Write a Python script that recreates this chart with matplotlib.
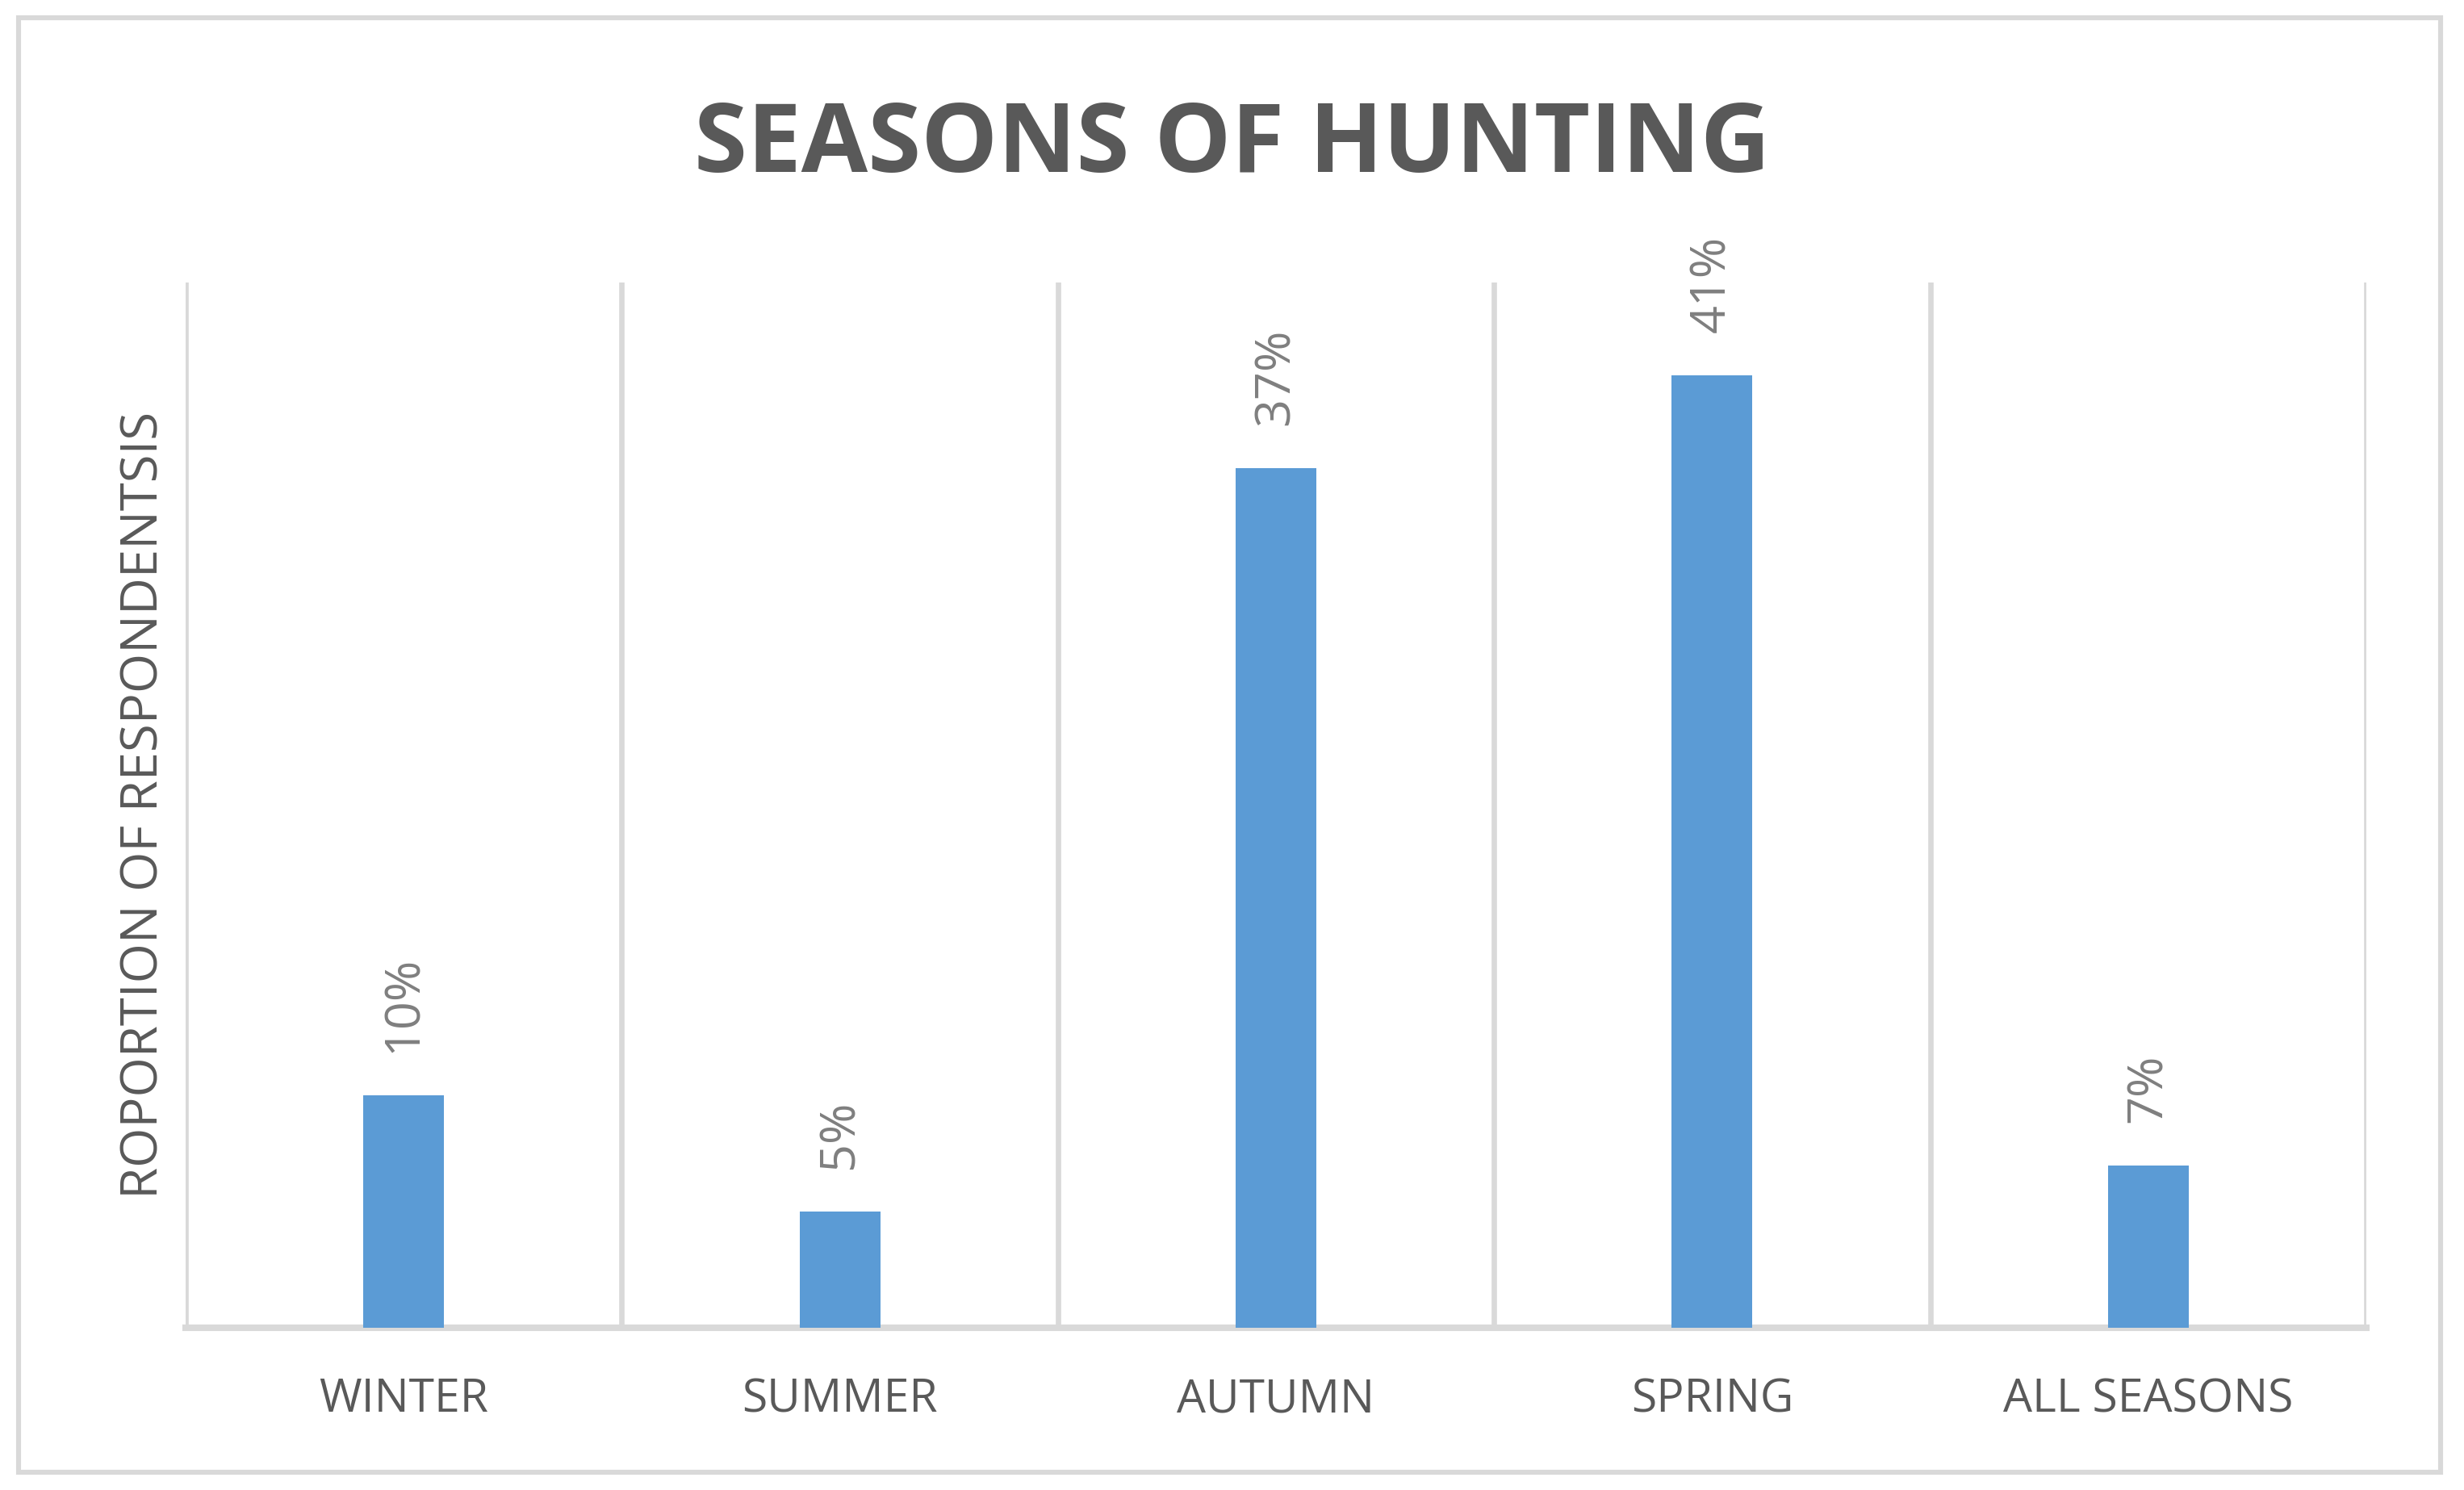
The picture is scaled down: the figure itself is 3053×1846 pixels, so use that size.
import matplotlib.pyplot as plt
from matplotlib.patches import Rectangle
import numpy as np

# dados do grafico
estacoes = ['WINTER', 'SUMMER', 'AUTUMN', 'SPRING', 'ALL SEASONS']
percentuais = [10, 5, 37, 41, 7]
rotulos = ['10%', '5%', '37%', '41%', '7%']

azul = '#5B9BD5'
cinza_linha = '#D9D9D9'
cinza_texto = '#595959'

fig = plt.figure(figsize=(15.265, 9.23), dpi=200)
ax = fig.add_axes([0.0753, 0.1089, 0.8851, 0.7015])

x = np.arange(len(estacoes))
barras = ax.bar(x, percentuais, width=0.185, color=azul, zorder=3)

# rotulos de dados na vertical
for b, r in zip(barras, rotulos):
    ax.annotate(r, (b.get_x() + b.get_width() / 2, b.get_height()),
                xytext=(0, 19), textcoords='offset points',
                rotation=90, ha='center', va='bottom',
                fontsize=22, color='#7F7F7F', family='Open Sans')

ax.set_xlim(-0.5, len(estacoes) - 0.5)
ax.set_ylim(0, 45)

# linhas verticais entre categorias
ax.set_xticks(x)
ax.set_xticks(np.arange(len(estacoes) + 1) - 0.5, minor=True)
ax.grid(which='minor', axis='x', color=cinza_linha, linewidth=2.4, zorder=0)
ax.tick_params(axis='x', which='both', length=0, pad=22)
ax.set_xticklabels(estacoes, fontsize=20.5, color=cinza_texto, family='Open Sans')
ax.set_yticks([])

for lado in ['top', 'right', 'left']:
    ax.spines[lado].set_visible(False)
ax.spines['bottom'].set_color(cinza_linha)
ax.spines['bottom'].set_linewidth(2.9)

fig.text(0.5, 0.9015, 'SEASONS OF HUNTING', ha='center', va='center',
         fontsize=43, fontweight='bold', color=cinza_texto, family='Open Sans')
fig.text(0.0586, 0.4597, 'ROPORTION OF RESPONDENTSIS', rotation=90,
         ha='center', va='center', fontsize=22.8, color=cinza_texto, family='Open Sans')

# moldura externa
fig.patches.append(Rectangle((23 / 3053, 22 / 1846), 3001 / 3053, 1802 / 1846,
                             transform=fig.transFigure, fill=False,
                             edgecolor=cinza_linha, linewidth=2.2))

fig.savefig('out.png', dpi=200, facecolor='white')
